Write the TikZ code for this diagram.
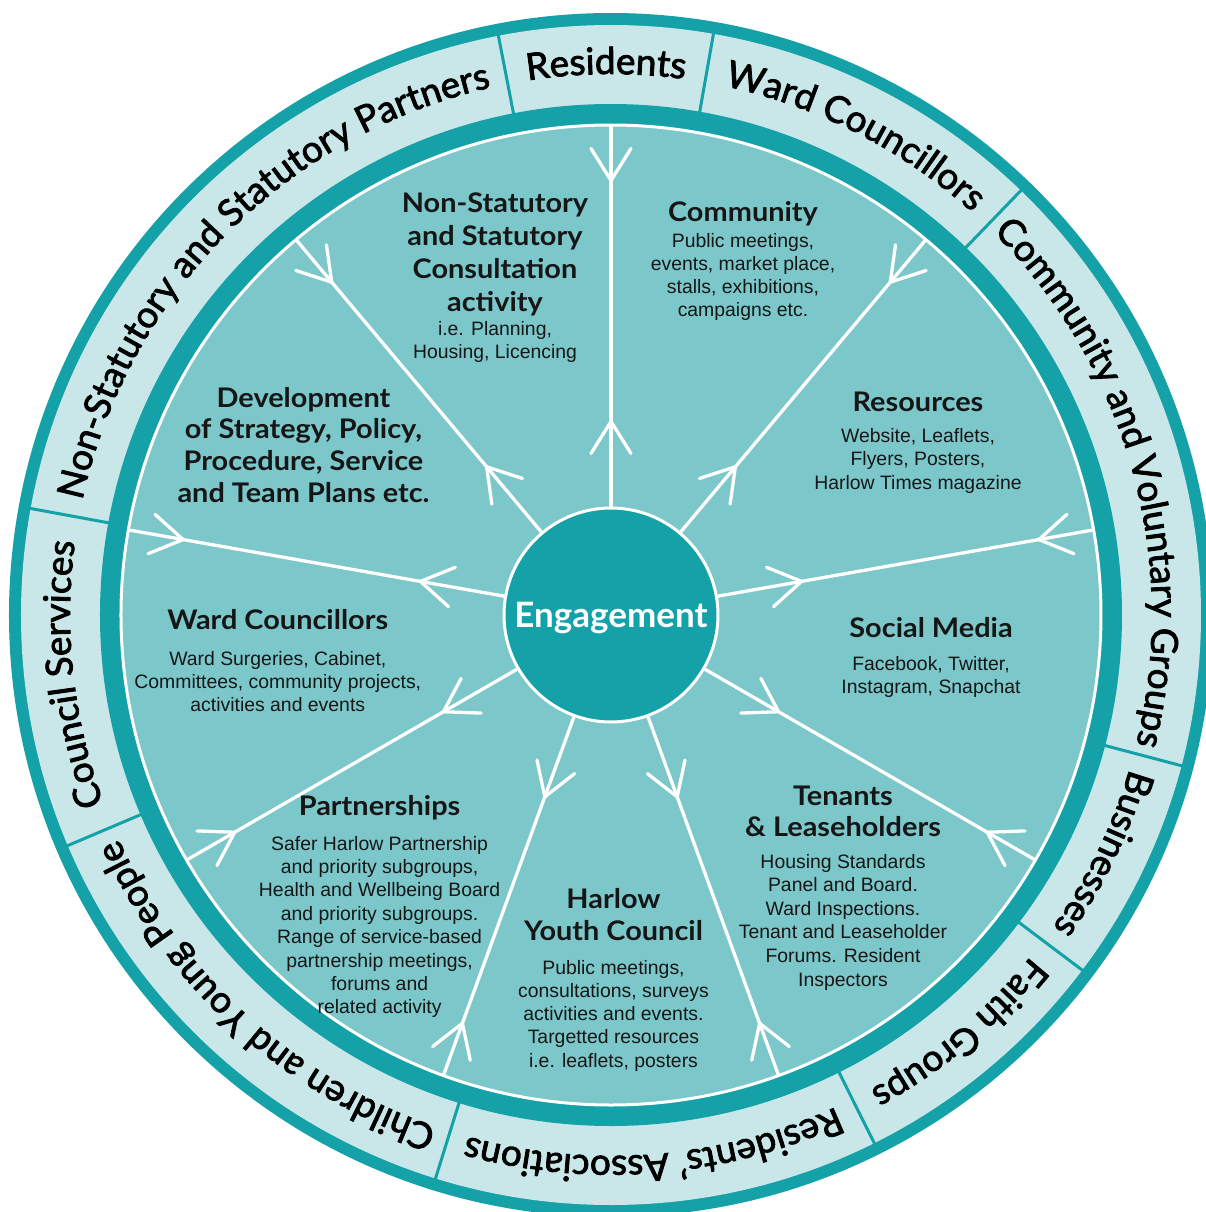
\documentclass[tikz,border=0pt]{standalone}
\usepackage{fontspec}
\setmainfont{Liberation Sans}
\newfontfamily\headfont{Lato}[FakeStretch=1.07]
\newfontfamily\engfont{Lato}
\newfontfamily\ringfontfam{Lato}[FakeBold=2.2]
\usetikzlibrary{decorations.text,decorations.markings}
\definecolor{tealdark}{RGB}{20,161,167}
\definecolor{teallight}{RGB}{201,231,232}
\definecolor{tealmid}{RGB}{124,199,202}
\definecolor{ink}{RGB}{22,22,22}
\tikzset{
  hdtext/.style={font=\headfont\bfseries\fontsize{13.5}{16}\selectfont, text=ink, inner sep=0pt},
  bdtext/.style={font=\fontsize{9.7}{11.6}\selectfont, text=ink, inner sep=0pt},
  chev/.style={white, line width=1.65pt, line cap=round, line join=miter},
  spoke/.style={draw=white, line width=1.65pt, postaction={decorate},
    decoration={markings,
      mark=at position 42.5pt with {\draw[chev] (-16pt,10pt) -- (0pt,0pt) -- (-16pt,-10pt);},
      mark=at position 163pt with {\draw[chev] (16pt,10pt) -- (0pt,0pt) -- (16pt,-10pt);}}},
  sep/.style={tealdark, line width=1.5pt}
}
\newcommand\tblock[6]{%
  \foreach \ln [count=\i] in {#6} {
    \node[#5, anchor=base] (#1\i) at ({#2},{#3-(\i-1)*#4}) {\ln};
  }%
}
\newcommand\ringlabel[3]{%
  \path[decorate, decoration={text along path, text align=center,
     text={|\ringfontfam\fontsize{18.5}{20}\selectfont|#3}}]
     (#1:270.5pt) arc[start angle=#1, end angle=#2, radius=270.5pt];%
}
\begin{document}
\begin{tikzpicture}[x=0.5pt,y=0.5pt]
\useasboundingbox[fill=white] (-611,-597) rectangle (595,615);
% rings
\fill[tealdark] (0,0) circle[radius=301pt];
\fill[teallight] (0,0) circle[radius=295pt];
\fill[tealdark] (0,0) circle[radius=255.5pt];
\fill[tealmid] (0,0) circle[radius=245pt];
\draw[white, line width=1.5pt] (0,0) circle[radius=245pt];
% separators in label band
\foreach \a in {101,80,46,-14.8,-37,-63.5,-107.3,-157,169.6}
  \draw[sep] (\a:254pt) -- (\a:296pt);
% ring labels
\ringlabel{101}{80}{Residents}
\ringlabel{80}{46}{Ward Councillors}
\ringlabel{46}{-14.8}{Community and Voluntary Groups}
\ringlabel{-14.8}{-37}{Businesses}
\ringlabel{-37}{-63.5}{Faith Groups}
\ringlabel{-63.5}{-107.3}{Residents’ Associations}
\ringlabel{-107.3}{-157}{Children and Young People}
\ringlabel{203}{169.6}{Council Services}
\ringlabel{169.6}{101}{Non-Statutory and Statutory Partners}
% centre
\node[circle, fill=tealdark, draw=white, line width=1.5pt, minimum size=107pt, inner sep=0pt,
      text=white, font=\engfont\bfseries\fontsize{17.5}{20}\selectfont,
      text height=12.6pt, text depth=0pt] (eng) at (0,0) {Engagement};
% spokes
\foreach \a in {90,130,170,210,250,290,330,10,50} {
  \coordinate (rim\a) at (\a:245pt);
  \draw[spoke] (eng.\a) -- (rim\a);
}
% sector texts
\tblock{a}{-116}{403}{33}{hdtext}{Non-Statutory,and Statutory,Consultation,activity}
\tblock{ab}{-116}{280}{23}{bdtext}{{i.e. Planning,},{Housing, Licencing}}
\tblock{b}{132}{394}{33}{hdtext}{Community}
\tblock{bb}{132}{368}{23.3}{bdtext}{{Public meetings,},{events, market place,},{stalls, exhibitions,},{campaigns etc.}}
\tblock{c}{307}{204}{33}{hdtext}{Resources}
\tblock{cb}{307}{173}{23.5}{bdtext}{{Website, Leaflets,},{Flyers, Posters,},{Harlow Times magazine}}
\tblock{d}{320}{-22}{33}{hdtext}{Social Media}
\tblock{db}{320}{-55}{23}{bdtext}{{Facebook, Twitter,},{Instagram, Snapchat}}
\tblock{e}{232}{-190}{31}{hdtext}{Tenants,\& Leaseholders}
\tblock{eb}{232}{-253}{23.6}{bdtext}{Housing Standards,Panel and Board.,Ward Inspections.,Tenant and Leaseholder,Forums. Resident,Inspectors}
\tblock{f}{2.5}{-293}{32.7}{hdtext}{Harlow,Youth Council}
\tblock{fb}{2.5}{-359}{23.25}{bdtext}{{Public meetings,},{consultations, surveys},activities and events.,Targetted resources,{i.e. leaflets, posters}}
\tblock{g}{-231.4}{-200.5}{33}{hdtext}{Partnerships}
\tblock{gb}{-231.4}{-235}{23.4}{bdtext}{Safer Harlow Partnership,{and priority subgroups,},Health and Wellbeing Board,and priority subgroups.,Range of service-based,{partnership meetings,},forums and,related activity}
\tblock{h}{-333.2}{-14.7}{33}{hdtext}{Ward Councillors}
\tblock{hb}{-333.2}{-50}{23}{bdtext}{{Ward Surgeries, Cabinet,},{Committees, community projects,},activities and events}
\tblock{i}{-307.5}{208}{31.7}{hdtext}{Development,{of Strategy, Policy,},{Procedure, Service},and Team Plans etc.}
\end{tikzpicture}
\end{document}
